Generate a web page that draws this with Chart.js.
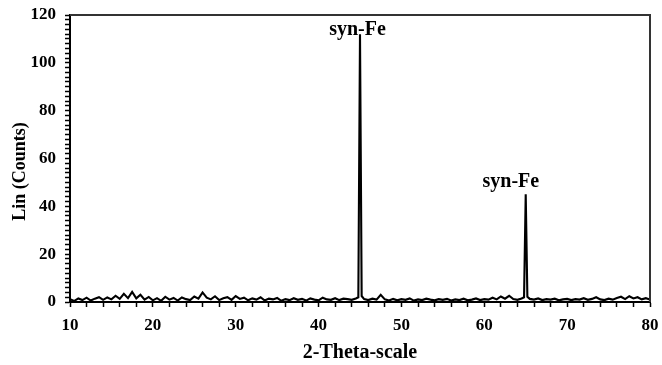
<!DOCTYPE html>
<html>
<head>
<meta charset="utf-8">
<script src="https://cdn.jsdelivr.net/npm/chart.js@4/dist/chart.umd.min.js"></script>
<style>
  html, body { margin: 0; padding: 0; background: #fff; }
  #wrap { width: 662px; height: 365px; position: relative; }
</style>
</head>
<body>
<div id="wrap"><canvas id="c" width="662" height="365"></canvas></div>
<script>
// 2-Theta positions (degrees)
const twoTheta = [
  10, 10.5, 11, 11.5, 12, 12.5, 13, 13.5, 14, 14.5,
  15, 15.5, 16, 16.5, 17, 17.5, 18, 18.5, 19, 19.5,
  20, 20.5, 21, 21.5, 22, 22.5, 23, 23.5, 24, 24.5,
  25, 25.5, 26, 26.5, 27, 27.5, 28, 28.5, 29, 29.5,
  30, 30.5, 31, 31.5, 32, 32.5, 33, 33.5, 34, 34.5,
  35, 35.5, 36, 36.5, 37, 37.5, 38, 38.5, 39, 39.5,
  40, 40.5, 41, 41.5, 42, 42.5, 43, 43.5, 44, 44.5,
  44.8, 45.0, 45.2, 45.5, 46, 46.5, 47, 47.5, 48, 48.5,
  49, 49.5, 50, 50.5, 51, 51.5, 52, 52.5, 53, 53.5,
  54, 54.5, 55, 55.5, 56, 56.5, 57, 57.5, 58, 58.5,
  59, 59.5, 60, 60.5, 61, 61.5, 62, 62.5, 63, 63.5,
  64, 64.5, 64.8, 65.0, 65.2, 65.5, 66, 66.5, 67, 67.5,
  68, 68.5, 69, 69.5, 70, 70.5, 71, 71.5, 72, 72.5,
  73, 73.5, 74, 74.5, 75, 75.5, 76, 76.5, 77, 77.5,
  78, 78.5, 79, 79.5, 80
];
// Intensity, Lin (Counts)
const counts = [
  1.2, 0.4, 1.5, 0.8, 1.8, 0.6, 1.4, 2.0, 0.9, 1.9,
  1.1, 2.6, 1.3, 3.4, 1.6, 4.2, 1.5, 3.0, 1.0, 2.1,
  0.7, 1.6, 0.5, 2.2, 1.0, 1.7, 0.6, 1.9, 1.2, 0.8,
  2.3, 1.4, 4.0, 1.8, 1.1, 2.4, 0.8, 1.6, 2.0, 0.9,
  2.5, 1.3, 1.8, 0.7, 1.5, 1.0, 2.0, 0.6, 1.4, 1.1,
  1.7, 0.5, 1.2, 0.8, 1.6, 0.9, 1.3, 0.6, 1.5, 1.0,
  0.7, 1.8, 1.1, 0.9, 1.6, 0.8, 1.4, 1.2, 0.9, 1.5,
  2.0, 112, 2.5, 1.2, 0.8, 1.4, 1.0, 3.0, 1.1, 0.6,
  1.3, 0.7, 1.2, 0.9, 1.5, 0.6, 1.1, 0.8, 1.4, 1.0,
  0.7, 1.2, 0.9, 1.3, 0.6, 1.1, 0.8, 1.4, 0.7, 1.0,
  1.5, 0.8, 1.2, 1.0, 1.8, 1.1, 2.3, 1.4, 2.6, 1.2,
  0.9, 1.5, 2.0, 45, 2.2, 1.3, 1.0, 1.5, 0.8, 1.2,
  1.0, 1.4, 0.7, 1.1, 1.3, 0.8, 1.2, 1.0, 1.6, 0.9,
  1.3, 2.0, 1.1, 0.8, 1.4, 1.0, 1.7, 2.2, 1.2, 2.4,
  1.5, 2.0, 1.1, 1.6, 1.0
];
// Peak annotations
const peakLabels = ["syn-Fe", "syn-Fe"];
const peakLabelX = [44.7, 63.2];
const peakLabelY = [114, 50.2];
const yTitle = "Lin (Counts)";
const xTitle = "2-Theta-scale";

const serif = "'Liberation Serif', 'Times New Roman', serif";

const boxPlugin = {
  id: 'boxAndLabels',
  afterDatasetsDraw(chart) {
    const {ctx, chartArea: a, scales} = chart;
    ctx.save();
    ctx.strokeStyle = '#333';
    ctx.lineWidth = 2;
    ctx.beginPath();
    ctx.moveTo(a.left, a.top);
    ctx.lineTo(a.right, a.top);
    ctx.lineTo(a.right, a.bottom);
    ctx.stroke();
    ctx.fillStyle = '#000';
    ctx.font = 'bold 20px ' + serif;
    ctx.textAlign = 'center';
    ctx.textBaseline = 'middle';
    for (let i = 0; i < peakLabels.length; i++) {
      ctx.fillText(peakLabels[i], scales.x.getPixelForValue(peakLabelX[i]), scales.y.getPixelForValue(peakLabelY[i]));
    }
    // y axis title, slightly below the plot centre as in the reference
    ctx.font = 'bold 18px ' + serif;
    ctx.translate(20, (a.top + a.bottom) / 2 + 13);
    ctx.rotate(-Math.PI / 2);
    ctx.fillText(yTitle, 0, 0);
    ctx.restore();
  }
};

new Chart(document.getElementById('c'), {
  type: 'line',
  data: {
    datasets: [{
      data: twoTheta.map((x, i) => ({x: x, y: counts[i]})),
      borderColor: '#000',
      borderWidth: 2.1,
      pointRadius: 0,
      tension: 0,
      fill: false
    }]
  },
  options: {
    responsive: false,
    animation: false,
    events: [],
    layout: { padding: { left: 0, right: 12, top: 15, bottom: 0 } },
    plugins: { legend: { display: false }, tooltip: { enabled: false } },
    scales: {
      x: {
        type: 'linear',
        min: 10, max: 80,
        afterFit(s) { s.height = 63; s.paddingLeft = 0; s.paddingRight = 0; },
        border: { color: '#000', width: 2 },
        grid: { drawOnChartArea: false, tickLength: 5, tickColor: '#000', tickWidth: 1.5 },
        ticks: {
          stepSize: 2, autoSkip: false, maxRotation: 0, padding: 8, color: '#000',
          font: { family: serif, size: 17, weight: 'bold' },
          callback: v => (v % 10 === 0 ? String(v) : '')
        },
        title: {
          display: true, text: xTitle, color: '#000',
          font: { family: serif, size: 20, weight: 'bold' },
          padding: { top: 1, bottom: 0 }
        }
      },
      y: {
        min: 0, max: 120,
        afterFit(s) { s.width = 70; s.paddingTop = 0; s.paddingBottom = 0; },
        border: { color: '#000', width: 2 },
        grid: { drawOnChartArea: false, tickLength: 5, tickColor: '#000', tickWidth: 1.5 },
        ticks: {
          stepSize: 2, autoSkip: false, padding: 9, color: '#000',
          font: { family: serif, size: 17, weight: 'bold' },
          callback: v => (v % 20 === 0 ? String(v) : '')
        },
        title: { display: false }
      }
    }
  },
  plugins: [boxPlugin]
});
</script>
</body>
</html>
